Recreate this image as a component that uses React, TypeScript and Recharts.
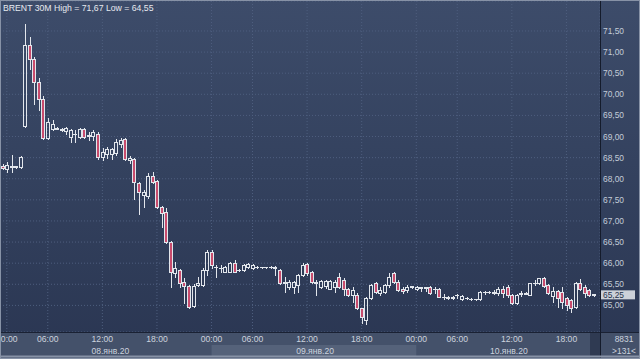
import React from 'react';
import { ComposedChart, Bar, XAxis, YAxis, CartesianGrid, ReferenceLine } from 'recharts';

// ---- data ----
const DAYS = ['07.янв.20', '08.янв.20', '09.янв.20', '10.янв.20'];
const NIGHT_TIMES = ['00:00', '00:30', '01:00', '01:30', '03:30', '04:00', '04:30', '05:00', '05:30'];
const DAY_TIMES = [
  '06:00', '06:30', '07:00', '07:30', '08:00', '08:30', '09:00', '09:30', '10:00', '10:30', '11:00', '11:30',
  '12:00', '12:30', '13:00', '13:30', '14:00', '14:30', '15:00', '15:30', '16:00', '16:30', '17:00', '17:30',
  '18:00', '18:30', '19:00', '19:30', '20:00', '20:30', '21:00', '21:30', '22:00', '22:30', '23:00', '23:30',
];
const FIRST_TIME = '23:30';
const LAST_DAY_TIMES = DAY_TIMES.slice(0, 31);
const TICK_TIMES = ['00:00', '06:00', '12:00', '18:00'];
const Y_TICKS = [65, 65.5, 66, 66.5, 67, 67.5, 68, 68.5, 69, 69.5, 70, 70.5, 71, 71.5];

const OPEN = [
  68.30, 68.22, 68.30, 68.28, 68.28, 69.24, 71.16, 70.83, 70.30, 69.90,
  68.97, 69.19, 69.20, 69.18, 69.13, 68.99, 69.06, 68.99, 69.19, 69.02,
  69.01, 69.07, 68.52, 68.58, 68.58, 68.60, 68.82, 68.93, 68.44, 68.46,
  67.90, 67.61, 67.59, 68.06, 67.95, 67.34, 67.22, 66.51, 65.76, 65.85,
  65.56, 65.46, 64.99, 65.49, 65.48, 65.84, 66.27, 65.92, 65.88, 65.80,
  65.80, 66.01, 65.83, 65.84, 65.91, 65.88, 65.92, 65.91, 65.91, 65.90,
  65.92, 65.85, 65.52, 65.44, 65.44, 65.48, 65.72, 65.98, 65.80, 65.56,
  65.44, 65.46, 65.40, 65.44, 65.68, 65.60, 65.40, 65.25, 65.25, 64.93,
  64.65, 65.17, 65.52, 65.29, 65.32, 65.48, 65.76, 65.56, 65.40, 65.36,
  65.44, 65.38, 65.43, 65.42, 65.43, 65.38, 65.40, 65.21, 65.20, 65.18,
  65.24, 65.14, 65.18, 65.16, 65.14, 65.14, 65.32, 65.31, 65.32, 65.30,
  65.40, 65.44, 65.25, 65.06, 65.27, 65.29, 65.25, 65.52, 65.52, 65.64,
  65.48, 65.22, 65.35, 65.32, 65.17, 65.13, 64.97, 65.52, 65.43, 65.36,
  65.26,
];
const HIGH = [
  68.34, 68.40, 68.56, 68.31, 68.54, 71.67, 71.36, 70.89, 70.38, 69.96,
  69.43, 69.39, 69.22, 69.20, 69.23, 69.18, 69.15, 69.21, 69.21, 69.11,
  69.15, 69.10, 68.72, 68.76, 68.74, 68.93, 68.96, 68.96, 68.54, 68.48,
  67.93, 67.73, 68.13, 68.17, 67.98, 67.36, 67.30, 66.53, 66.03, 65.87,
  65.64, 65.48, 65.50, 65.68, 65.88, 66.31, 66.31, 65.95, 65.96, 65.93,
  66.03, 66.07, 65.87, 65.98, 66.00, 65.98, 65.93, 65.92, 65.92, 65.94,
  65.94, 65.87, 65.68, 65.60, 65.58, 65.74, 66.00, 66.01, 65.82, 65.60,
  65.60, 65.61, 65.60, 65.60, 65.76, 65.64, 65.42, 65.43, 65.30, 64.95,
  65.19, 65.50, 65.56, 65.44, 65.50, 65.76, 65.80, 65.61, 65.44, 65.48,
  65.47, 65.46, 65.44, 65.44, 65.45, 65.44, 65.42, 65.27, 65.22, 65.23,
  65.28, 65.24, 65.19, 65.17, 65.16, 65.33, 65.33, 65.34, 65.36, 65.44,
  65.46, 65.48, 65.27, 65.27, 65.33, 65.31, 65.54, 65.60, 65.66, 65.67,
  65.50, 65.44, 65.37, 65.44, 65.19, 65.15, 65.56, 65.62, 65.48, 65.38,
  65.28,
];
const LOW = [
  68.22, 68.17, 68.17, 68.26, 68.26, 69.22, 70.61, 69.78, 69.63, 68.95,
  68.93, 69.15, 69.17, 69.14, 69.07, 68.88, 68.88, 68.97, 68.97, 68.92,
  68.91, 68.46, 68.44, 68.48, 68.46, 68.56, 68.76, 68.44, 68.38, 67.51,
  67.16, 67.34, 67.54, 67.90, 67.30, 66.86, 66.47, 65.44, 65.68, 65.44,
  65.05, 64.95, 64.97, 65.47, 65.46, 65.72, 65.88, 65.68, 65.80, 65.78,
  65.78, 65.78, 65.81, 65.82, 65.89, 65.86, 65.89, 65.89, 65.89, 65.89,
  65.72, 65.50, 65.32, 65.40, 65.29, 65.32, 65.70, 65.72, 65.54, 65.25,
  65.42, 65.42, 65.38, 65.32, 65.42, 65.25, 65.22, 65.09, 64.91, 64.58,
  64.55, 65.15, 65.29, 65.25, 65.30, 65.44, 65.54, 65.33, 65.30, 65.31,
  65.42, 65.36, 65.33, 65.33, 65.28, 65.29, 65.19, 65.14, 65.15, 65.16,
  65.18, 65.13, 65.15, 65.13, 65.13, 65.13, 65.28, 65.30, 65.28, 65.25,
  65.21, 65.21, 65.04, 65.04, 65.22, 65.26, 65.24, 65.48, 65.50, 65.44,
  65.27, 65.09, 64.97, 64.93, 64.89, 64.85, 64.95, 65.36, 65.21, 65.22,
  65.23,
];
const CLOSE = [
  68.26, 68.33, 68.28, 68.29, 68.52, 71.16, 70.83, 70.30, 69.88, 68.96,
  69.35, 69.29, 69.19, 69.16, 69.21, 69.15, 69.07, 69.19, 68.99, 69.03,
  69.11, 68.52, 68.64, 68.70, 68.70, 68.88, 68.92, 68.46, 68.50, 67.93,
  67.69, 67.69, 68.06, 67.93, 67.34, 67.18, 66.51, 65.80, 65.88, 65.52,
  65.46, 64.97, 65.46, 65.53, 65.84, 66.27, 65.96, 65.90, 65.89, 65.90,
  66.00, 65.80, 65.84, 65.96, 65.98, 65.96, 65.91, 65.91, 65.90, 65.92,
  65.88, 65.52, 65.55, 65.56, 65.56, 65.72, 65.96, 65.76, 65.56, 65.54,
  65.58, 65.58, 65.58, 65.56, 65.44, 65.40, 65.25, 65.36, 64.93, 64.73,
  65.17, 65.48, 65.32, 65.36, 65.48, 65.68, 65.56, 65.36, 65.33, 65.44,
  65.45, 65.44, 65.42, 65.43, 65.30, 65.40, 65.21, 65.20, 65.17, 65.19,
  65.25, 65.22, 65.17, 65.14, 65.15, 65.32, 65.31, 65.32, 65.30, 65.38,
  65.29, 65.25, 65.06, 65.25, 65.29, 65.28, 65.52, 65.53, 65.64, 65.46,
  65.29, 65.35, 65.17, 65.09, 65.01, 64.93, 65.52, 65.38, 65.30, 65.25,
  65.25,
];

// categories built from the lists above
const CATS: string[] = [
  `${DAYS[0]} ${FIRST_TIME}`,
  ...NIGHT_TIMES.map((t) => `${DAYS[1]} ${t}`),
  ...DAY_TIMES.map((t) => `${DAYS[1]} ${t}`),
  ...NIGHT_TIMES.map((t) => `${DAYS[2]} ${t}`),
  ...DAY_TIMES.map((t) => `${DAYS[2]} ${t}`),
  ...NIGHT_TIMES.map((t) => `${DAYS[3]} ${t}`),
  ...LAST_DAY_TIMES.map((t) => `${DAYS[3]} ${t}`),
];
const DATA = CATS.map((cat, i) => ({ cat, o: OPEN[i], h: HIGH[i], l: LOW[i], c: CLOSE[i] }));
const TICKS = CATS.filter((c) => TICK_TIMES.includes(c.split(' ')[1]));
const HI = Math.max(...HIGH);
const LO = Math.min(...LOW);
const LAST = CLOSE[CLOSE.length - 1];

// ---- layout / style ----
const W = 640;
const H = 359;
const PLOT_TOP = 1;
const PLOT_BOTTOM = 332;
const PLOT_RIGHT = 600;
const PAD_RIGHT = 4;
const BAND = (PLOT_RIGHT - PAD_RIGHT) / CATS.length;
const FONT = '"Liberation Sans", Arial, sans-serif';
const PINK = '#c84b6d';
const WHITE = '#e2e6ec';
const fmt = (v: number) => v.toFixed(2).replace('.', ',');

function Candle(props: any) {
  const { x, y, width, height, payload } = props;
  if (x == null || y == null || !payload) return null;
  const { o, h, l, c } = payload;
  const yTop = Math.min(y, y + height);
  const hg = Math.abs(height);
  const k = h > l ? hg / (h - l) : 0;
  const py = (v: number) => yTop + (h - v) * k;
  const c0 = Math.round(x + width / 2 + 0.5);
  const yH = Math.round(py(h));
  const yL = Math.round(py(l));
  const yO = Math.round(py(o));
  const yC = Math.round(py(c));
  const top = Math.min(yO, yC);
  const bot = Math.max(yO, yC);
  const bear = c < o;
  const wx = c0 + 0.5;
  return (
    <g>
      {yH < top && <line x1={wx} x2={wx} y1={yH} y2={top} stroke={WHITE} strokeWidth={1} />}
      {yL > bot && <line x1={wx} x2={wx} y1={bot + 1} y2={yL + 1} stroke={WHITE} strokeWidth={1} />}
      {bot - top < 1 ? (
        <line x1={c0 - 2} x2={c0 + 2} y1={top + 0.5} y2={top + 0.5} stroke={WHITE} strokeWidth={1} />
      ) : (
        <rect x={c0 - 1.5} y={top + 0.5} width={3} height={bot - top} fill={bear ? PINK : 'none'} stroke={WHITE} strokeWidth={1} />
      )}
    </g>
  );
}

function XTick(props: any) {
  const { x, payload } = props;
  const [day, time] = String(payload.value).split(' ');
  const dayCount = CATS.filter((cc) => cc.startsWith(day)).length;
  const dx = day === DAYS[3] ? -3 : 8;
  return (
    <g>
      {time === '00:00' && day === DAYS[2] && (
        <rect x={x} y={PLOT_BOTTOM + 13} width={dayCount * BAND} height={12} fill="#55627a" />
      )}
      <text x={x} y={PLOT_BOTTOM + 10} textAnchor="middle" fontSize={8.6} fontFamily={FONT} fill="#ccd3de">
        {time}
      </text>
      {time === '12:00' && (
        <text x={x + dx} y={PLOT_BOTTOM + 21.5} textAnchor="middle" fontSize={8.6} fontFamily={FONT} fill="#ccd3de">
          {day}
        </text>
      )}
    </g>
  );
}

function YTick(props: any) {
  const { y, payload } = props;
  return (
    <text x={PLOT_RIGHT + 3} y={y + 3} textAnchor="start" fontSize={8.4} fontFamily={FONT} fill="#c4ccd8">
      {fmt(payload.value)}
    </text>
  );
}

function PriceTag(props: any) {
  const vb = props.viewBox || {};
  const yy = vb.y;
  if (yy == null) return null;
  return (
    <g>
      <rect x={PLOT_RIGHT + 1} y={yy - 4.5} width={34} height={9} fill="#ccd1d9" />
      <text x={PLOT_RIGHT + 3} y={yy + 3} fontSize={8.4} fontFamily={FONT} fill="#27314a">
        {fmt(LAST)}
      </text>
    </g>
  );
}

export default function App() {
  return (
    <div
      style={{
        position: 'absolute',
        left: 0,
        top: 0,
        width: W,
        height: H,
        overflow: 'hidden',
        background: 'linear-gradient(180deg, #3d4c6a 0%, #34425f 45%, #2a3652 100%)',
      }}
    >
      <svg width={W} height={H} style={{ position: 'absolute', left: 0, top: 0 }}>
        <rect x={0} y={PLOT_BOTTOM} width={W} height={H - PLOT_BOTTOM} fill="#44516a" />
        <rect x={590} y={PLOT_BOTTOM} width={10} height={H - PLOT_BOTTOM} fill="#2f3a52" />
      </svg>
      <div style={{ position: 'absolute', left: 0, top: 0 }}>
        <ComposedChart width={W} height={H} data={DATA} margin={{ top: PLOT_TOP, right: 0, bottom: 0, left: 0 }}>
          <CartesianGrid stroke="#4e5e7e" strokeDasharray="1 2" />
          <XAxis
            dataKey="cat"
            type="category"
            ticks={TICKS}
            interval={0}
            height={H - PLOT_BOTTOM}
            padding={{ left: 0, right: PAD_RIGHT }}
            axisLine={false}
            tickLine={false}
            tickSize={0}
            tickMargin={0}
            tick={(p: any) => <XTick {...p} />}
          />
          <YAxis
            orientation="right"
            type="number"
            domain={[64.37, 72.21]}
            allowDataOverflow
            ticks={Y_TICKS}
            interval={0}
            width={W - PLOT_RIGHT}
            axisLine={false}
            tickLine={false}
            tickSize={0}
            tickMargin={3}
            tick={(p: any) => <YTick {...p} />}
          />
          <Bar
            dataKey={(d: any) => [d.l, d.h]}
            barSize={4}
            shape={(p: any) => <Candle {...p} />}
            isAnimationActive={false}
          />
          <ReferenceLine y={LAST} stroke="none" ifOverflow="visible" label={(p: any) => <PriceTag {...p} />} />
        </ComposedChart>
      </div>
      <svg width={W} height={H} style={{ position: 'absolute', left: 0, top: 0, pointerEvents: 'none' }}>
        <line x1={0} x2={W} y1={PLOT_BOTTOM + 0.5} y2={PLOT_BOTTOM + 0.5} stroke="#1a2133" strokeWidth={1} />
        <line x1={PLOT_RIGHT + 0.5} x2={PLOT_RIGHT + 0.5} y1={0} y2={H} stroke="#141b2b" strokeWidth={1} />
        <text x={3} y={10.5} fontSize={8.7} fontFamily={FONT} fill="#e6e9ef">
          {`BRENT 30M High = ${fmt(HI)} Low = ${fmt(LO)}`}
        </text>
        <text x={624} y={342} textAnchor="middle" fontSize={8.4} fontFamily={FONT} fill="#ccd3de">
          8831
        </text>
        <text x={624} y={353.5} textAnchor="middle" fontSize={8.4} fontFamily={FONT} fill="#ccd3de">
          {`>${CATS.length}<`}
        </text>
        <rect x={0.5} y={0.5} width={W - 1} height={H - 1} fill="none" stroke="#8792a6" strokeWidth={1} />
        <line x1={0} x2={W} y1={H - 2.5} y2={H - 2.5} stroke="#8792a6" strokeWidth={2} />
      </svg>
    </div>
  );
}
